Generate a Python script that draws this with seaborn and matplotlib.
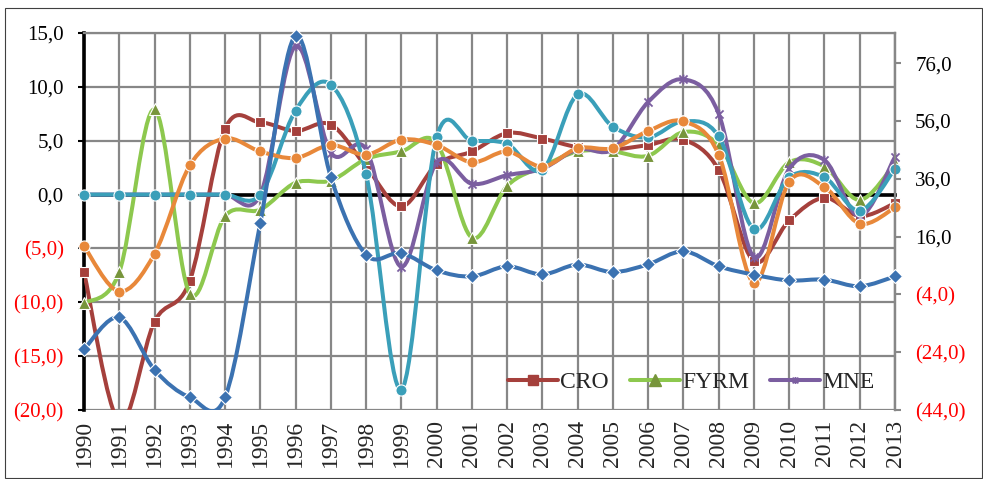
import numpy as np
import seaborn as sns
import matplotlib.pyplot as plt
from matplotlib.path import Path
from matplotlib.patches import PathPatch, Rectangle
from matplotlib.lines import Line2D

# GDP growth, smoothed-line chart with a secondary axis for BIH

years = list(range(1990, 2014))
cro = [-7.2, -21.1, -11.8, -8.0, 6.1, 6.7, 5.9, 6.5, 2.6, -1.1, 2.8, 4.0,
       5.7, 5.2, 4.4, 4.2, 4.6, 5.1, 2.3, -6.2, -2.4, -0.3, -2.0, -0.8]
fyrm = [-10.1, -7.2, 7.9, -9.2, -2.0, -1.4, 1.1, 1.3, 3.3, 4.0, 4.8, -4.0,
        0.8, 2.6, 4.0, 4.0, 3.6, 5.8, 4.6, -0.8, 3.0, 2.6, -0.5, 2.9]
mne = [0.0, 0.0, 0.0, 0.0, 0.0, 0.0, 13.8, 3.9, 4.2, -6.7, 3.0, 1.0,
       1.8, 2.4, 4.2, 4.2, 8.6, 10.7, 7.5, -5.8, 2.4, 3.2, -2.0, 3.5]
srb = [0.0, 0.0, 0.0, 0.0, 0.0, 0.0, 7.8, 10.2, 1.9, -18.1, 5.3, 5.0,
       4.7, 2.3, 9.3, 6.3, 5.3, 6.8, 5.4, -3.2, 1.6, 1.6, -1.5, 2.4]
alb = [-4.8, -9.0, -5.5, 2.7, 5.2, 4.0, 3.4, 4.6, 3.7, 5.1, 4.6, 3.0,
       4.0, 2.6, 4.3, 4.3, 5.9, 6.8, 3.7, -8.2, 1.2, 0.7, -2.7, -1.2]
# right axis
bih = [-23.0, -12.0, -30.1, -39.6, -39.6, 20.7, 85.4, 36.6, 9.7, 10.3, 4.3, 2.2,
       5.7, 2.9, 6.3, 3.7, 6.4, 10.9, 5.7, 2.8, 0.8, 1.1, -1.2, 2.2]

left_ticks = [-20, -15, -10, -5, 0, 5, 10, 15]
right_ticks = [-44, -24, -4, 16, 36, 56, 76]

GRID = '#878787'
RED = '#FF0000'

# Excel-like star marker: X with a vertical bar
STAR = Path([(-1, -1), (1, 1), (-1, 1), (1, -1), (0, -1.2), (0, 1.2)],
            [Path.MOVETO, Path.LINETO, Path.MOVETO, Path.LINETO, Path.MOVETO, Path.LINETO])


def smooth_path(x, y):
    # cubic bezier through every point, the way Excel draws a "smoothed line"
    pts = np.column_stack([x, y]).astype(float)
    n = len(pts)
    verts = [pts[0]]
    codes = [Path.MOVETO]
    for i in range(n - 1):
        p0 = pts[i - 1] if i > 0 else pts[i]
        p1, p2 = pts[i], pts[i + 1]
        p3 = pts[i + 2] if i + 2 < n else pts[i + 1]
        verts += [p1 + (p2 - p0) / 6, p2 - (p3 - p1) / 6, p2]
        codes += [Path.CURVE4] * 3
    return Path(verts, codes)


def fmt(v):
    s = f"{abs(v):.1f}".replace('.', ',')
    return f"({s})" if v < 0 else s


def draw(ax, y, color, mcolor, marker, ms, z, mec='white', mew=0.8):
    ax.add_patch(PathPatch(smooth_path(years, y), fill=False, edgecolor=color,
                           lw=2.9, joinstyle='round', capstyle='round', zorder=z))
    sns.lineplot(x=years, y=y, ax=ax, color=mcolor, marker=marker, linestyle='',
                 markersize=ms, markeredgecolor=mec, markeredgewidth=mew,
                 zorder=z + 0.5, legend=False)
    line = ax.lines[-1]
    line.set_clip_path(Rectangle((-0.02, 0.0), 1.04, 1.03, transform=ax.transAxes))


sns.set_style("white")
plt.rcParams['font.family'] = ['Liberation Serif', 'DejaVu Serif']

fig = plt.figure(figsize=(9.83, 4.79), dpi=100)
ax = fig.add_axes([84 / 983, 1 - 410 / 479, 811 / 983, 377 / 479])
ax2 = ax.twinx()

draw(ax, cro, '#A5403C', '#A5403C', 's', 7, 3)
draw(ax, fyrm, '#8DC84E', '#77953B', '^', 8, 4)
draw(ax, mne, '#7B5EA0', '#7B5EA0', STAR, 7, 5, mec='#7B5EA0', mew=1.3)
draw(ax, srb, '#3A9FB9', '#3A9FB9', 'o', 8, 6)
draw(ax, alb, '#E8883A', '#E8883A', 'o', 8, 7)
draw(ax2, bih, '#3B72B1', '#3B72B1', 'D', 7, 3)

# left axis
ax.set_xlim(1990, 2013)
ax.set_ylim(-20, 15)
ax.set_xticks(years)
ax.set_yticks(left_ticks)
ax.set_yticklabels([fmt(v) for v in left_ticks])
for lab, v in zip(ax.get_yticklabels(), left_ticks):
    lab.set_color(RED if v < 0 else 'black')
ax.grid(True, color=GRID, lw=1.6)
ax.set_axisbelow(True)
ax.tick_params(axis='y', direction='out', length=4.5, width=1.5, color='black',
               labelsize=15, pad=10)
ax.tick_params(axis='x', direction='out', length=4.5, width=2, color='black',
               labelbottom=False)
ax.spines['bottom'].set_position(('data', 0))
ax.spines['bottom'].set_color('black')
ax.spines['bottom'].set_linewidth(2.6)
ax.spines['bottom'].set_zorder(2.5)
ax.spines['left'].set_color('black')
ax.spines['left'].set_linewidth(2.6)
ax.spines['top'].set_color(GRID)
ax.spines['top'].set_linewidth(1.6)
ax.spines['right'].set_color(GRID)
ax.spines['right'].set_linewidth(1.6)

# year labels at the bottom of the plot area
yr = ax.secondary_xaxis('bottom')
yr.set_xticks(years)
yr.set_xticklabels([str(v) for v in years], rotation=90)
yr.tick_params(length=0, pad=7, labelsize=17)
yr.spines['bottom'].set_visible(False)

# right axis
ax2.set_ylim(-44, 86.4)
ax2.set_yticks(right_ticks)
ax2.set_yticklabels([fmt(v) for v in right_ticks])
for lab, v in zip(ax2.get_yticklabels(), right_ticks):
    lab.set_color(RED if v < 0 else 'black')
ax2.tick_params(axis='y', direction='out', length=4.5, width=1.5, color=GRID,
                labelsize=15, pad=10)
for side in ['left', 'top', 'bottom']:
    ax2.spines[side].set_visible(False)
ax2.spines['right'].set_color(GRID)
ax2.spines['right'].set_linewidth(1.6)
ax2.grid(False)

handles = [
    Line2D([], [], color='#A5403C', lw=2.9, marker='s', ms=7, mfc='#A5403C', mec='#A5403C'),
    Line2D([], [], color='#8DC84E', lw=2.9, marker='^', ms=8, mfc='#77953B', mec='#77953B'),
    Line2D([], [], color='#7B5EA0', lw=2.9, marker=STAR, ms=5, mec='#7B5EA0', mew=1.3),
]
ax2.legend(handles, ['CRO', 'FYRM', 'MNE'], loc='center left', ncol=3,
           bbox_to_anchor=(0.523, 0.073), frameon=False, fontsize=17,
           handlelength=2.1, handletextpad=0.1, columnspacing=0.9,
           borderpad=0, borderaxespad=0)

fig.add_artist(Rectangle((5 / 983, 1 / 479), 977 / 983, 470 / 479, transform=fig.transFigure,
                         fill=False, edgecolor='#404040', lw=0.8))

fig.savefig('out.png', dpi=100)
